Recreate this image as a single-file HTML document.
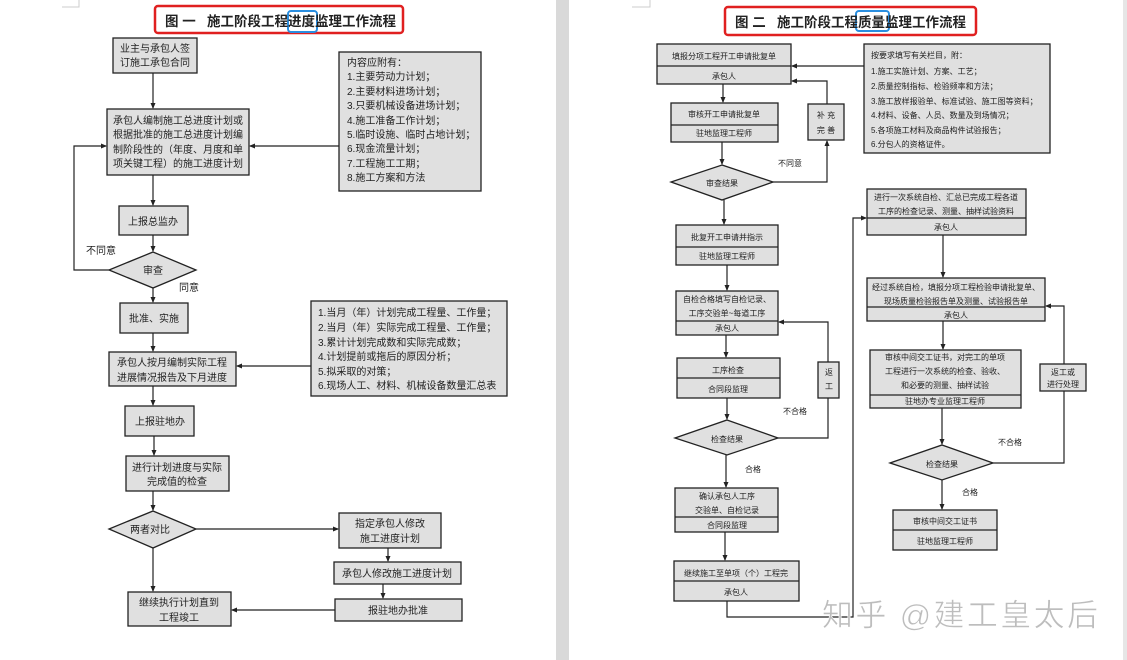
<!DOCTYPE html>
<html><head><meta charset="utf-8"><style>
html,body{margin:0;padding:0;background:#fff;}
svg{display:block;}
text{font-family:"Liberation Sans","Noto Sans CJK SC",sans-serif;fill:#222;}
.b{fill:#e0e0e0;stroke:#222;stroke-width:1.3;}
.l{stroke:#222;stroke-width:1.2;fill:none;}
.t{font-size:10px;}
.s{font-size:8px;}
.ti{font-size:13.5px;font-weight:bold;white-space:pre;}
</style></head><body>
<svg width="1127" height="660" viewBox="0 0 1127 660" xmlns="http://www.w3.org/2000/svg">
<defs><marker id="a" markerWidth="6" markerHeight="6" refX="5" refY="3" orient="auto" markerUnits="userSpaceOnUse"><path d="M0,0.5 L6,3 L0,5.5z" fill="#222"/></marker></defs>
<rect x="556" y="0" width="13" height="660" fill="#d9d9d9"/>
<rect x="1123" y="0" width="4" height="660" fill="#e6e6e6"/>
<path d="M62 7 H79 V0" stroke="#ccc" fill="none"/>
<path d="M632 7 H650 V0" stroke="#ccc" fill="none"/>

<!-- LEFT -->
<rect x="155" y="6" width="248" height="27" rx="3" fill="#fff" stroke="#e02020" stroke-width="2.5"/>
<rect x="288" y="11" width="29" height="21" rx="3" fill="none" stroke="#2a8ee0" stroke-width="2"/>
<text class="ti" x="165" y="26" fill="#111" xml:space="preserve">图 一   施工阶段工程进度监理工作流程</text>

<rect class="b" x="113" y="38" width="84" height="35"/>
<text class="t" x="155" y="52" text-anchor="middle">业主与承包人签</text>
<text class="t" x="155" y="66" text-anchor="middle">订施工承包合同</text>
<line class="l" x1="153" y1="73" x2="153" y2="108" marker-end="url(#a)"/>

<rect class="b" x="339" y="52" width="142" height="139"/>
<g class="t"><text x="347" y="66">内容应附有：</text><text x="347" y="80">1.主要劳动力计划；</text><text x="347" y="95">2.主要材料进场计划；</text><text x="347" y="109">3.只要机械设备进场计划；</text><text x="347" y="124">4.施工准备工作计划；</text><text x="347" y="138">5.临时设施、临时占地计划；</text><text x="347" y="152">6.现金流量计划；</text><text x="347" y="167">7.工程施工工期；</text><text x="347" y="181">8.施工方案和方法</text></g>

<rect class="b" x="107" y="109" width="142" height="66"/>
<g class="t"><text x="113" y="124">承包人编制施工总进度计划或</text><text x="113" y="138">根据批准的施工总进度计划编</text><text x="113" y="153">制阶段性的（年度、月度和单</text><text x="113" y="167">项关键工程）的施工进度计划</text></g>
<line class="l" x1="339" y1="146" x2="250" y2="146" marker-end="url(#a)"/>
<line class="l" x1="153" y1="175" x2="153" y2="205" marker-end="url(#a)"/>

<rect class="b" x="119" y="206" width="69" height="29"/>
<text class="t" x="153" y="225" text-anchor="middle">上报总监办</text>
<line class="l" x1="153" y1="235" x2="153" y2="251" marker-end="url(#a)"/>
<polygon class="b" points="153,252 196,270 153,288 109,270"/>
<text class="t" x="153" y="274" text-anchor="middle">审查</text>
<path class="l" d="M109 270 H74 V146 H106" marker-end="url(#a)"/>
<text class="t" x="86" y="254">不同意</text>
<text class="t" x="179" y="291">同意</text>
<line class="l" x1="153" y1="288" x2="153" y2="302" marker-end="url(#a)"/>

<rect class="b" x="120" y="303" width="68" height="30"/>
<text class="t" x="154" y="322" text-anchor="middle">批准、实施</text>
<line class="l" x1="153" y1="333" x2="153" y2="351" marker-end="url(#a)"/>

<rect class="b" x="311" y="301" width="196" height="95"/>
<g class="t"><text x="318" y="316">1.当月（年）计划完成工程量、工作量；</text><text x="318" y="331">2.当月（年）实际完成工程量、工作量；</text><text x="318" y="346">3.累计计划完成数和实际完成数；</text><text x="318" y="360">4.计划提前或拖后的原因分析；</text><text x="318" y="375">5.拟采取的对策；</text><text x="318" y="389">6.现场人工、材料、机械设备数量汇总表</text></g>

<rect class="b" x="109" y="352" width="127" height="34"/>
<text class="t" x="172" y="366" text-anchor="middle">承包人按月编制实际工程</text>
<text class="t" x="172" y="381" text-anchor="middle">进展情况报告及下月进度</text>
<line class="l" x1="311" y1="366" x2="237" y2="366" marker-end="url(#a)"/>
<line class="l" x1="153" y1="386" x2="153" y2="405" marker-end="url(#a)"/>

<rect class="b" x="125" y="406" width="69" height="30"/>
<text class="t" x="160" y="425" text-anchor="middle">上报驻地办</text>
<line class="l" x1="154" y1="436" x2="154" y2="455" marker-end="url(#a)"/>

<rect class="b" x="126" y="456" width="103" height="35"/>
<text class="t" x="177" y="471" text-anchor="middle">进行计划进度与实际</text>
<text class="t" x="177" y="485" text-anchor="middle">完成值的检查</text>
<line class="l" x1="153" y1="491" x2="153" y2="510" marker-end="url(#a)"/>

<polygon class="b" points="153,511 196,529 153,548 109,529"/>
<text class="t" x="150" y="533" text-anchor="middle">两者对比</text>
<line class="l" x1="196" y1="529" x2="338" y2="529" marker-end="url(#a)"/>
<line class="l" x1="153" y1="548" x2="153" y2="591" marker-end="url(#a)"/>

<rect class="b" x="339" y="513" width="102" height="35"/>
<text class="t" x="390" y="527" text-anchor="middle">指定承包人修改</text>
<text class="t" x="390" y="542" text-anchor="middle">施工进度计划</text>
<line class="l" x1="388" y1="548" x2="388" y2="561" marker-end="url(#a)"/>
<rect class="b" x="334" y="562" width="127" height="22"/>
<text class="t" x="397" y="577" text-anchor="middle">承包人修改施工进度计划</text>
<line class="l" x1="383" y1="584" x2="383" y2="598" marker-end="url(#a)"/>
<rect class="b" x="335" y="599" width="127" height="22"/>
<text class="t" x="398" y="614" text-anchor="middle">报驻地办批准</text>
<line class="l" x1="335" y1="610" x2="232" y2="610" marker-end="url(#a)"/>
<rect class="b" x="128" y="592" width="103" height="34"/>
<text class="t" x="179" y="606" text-anchor="middle">继续执行计划直到</text>
<text class="t" x="179" y="621" text-anchor="middle">工程竣工</text>

<!-- RIGHT -->
<rect x="725" y="7" width="251" height="28" rx="3" fill="#fff" stroke="#e02020" stroke-width="2.5"/>
<rect x="856" y="11" width="33" height="20" rx="3" fill="none" stroke="#2a8ee0" stroke-width="2"/>
<text class="ti" x="735" y="27" fill="#111" xml:space="preserve">图 二   施工阶段工程质量监理工作流程</text>

<g class="s">
<rect class="b" x="657" y="44" width="134" height="40"/><line class="l" x1="657" y1="66" x2="791" y2="66"/>
<text x="724" y="59" text-anchor="middle">填报分项工程开工申请批复单</text><text x="724" y="79" text-anchor="middle">承包人</text>

<rect class="b" x="864" y="44" width="186" height="109"/>
<text x="871" y="58">按要求填写有关栏目，附：</text><text x="871" y="74">1.施工实施计划、方案、工艺；</text><text x="871" y="89">2.质量控制指标、检验频率和方法；</text><text x="871" y="104">3.施工放样报验单、标准试验、施工图等资料；</text><text x="871" y="118">4.材料、设备、人员、数量及到场情况；</text><text x="871" y="133">5.各项施工材料及商品构件试验报告；</text><text x="871" y="147">6.分包人的资格证件。</text>
<line class="l" x1="864" y1="66" x2="792" y2="66" marker-end="url(#a)"/>
<line class="l" x1="723" y1="84" x2="723" y2="102" marker-end="url(#a)"/>

<rect class="b" x="671" y="103" width="107" height="39"/><line class="l" x1="671" y1="125" x2="778" y2="125"/>
<text x="724" y="117" text-anchor="middle">审核开工申请批复单</text><text x="724" y="136" text-anchor="middle">驻地监理工程师</text>
<rect class="b" x="808" y="104" width="36" height="36"/>
<text x="826" y="118" text-anchor="middle">补 充</text><text x="826" y="133" text-anchor="middle">完 善</text>
<path class="l" d="M827 104 V81 H792" marker-end="url(#a)"/>
<line class="l" x1="722" y1="142" x2="722" y2="164" marker-end="url(#a)"/>
<polygon class="b" points="722,165 773,182 722,200 671,182"/>
<text x="722" y="186" text-anchor="middle">审查结果</text>
<path class="l" d="M773 182 H827 V141" marker-end="url(#a)"/>
<text x="778" y="166">不同意</text>
<line class="l" x1="724" y1="200" x2="724" y2="224" marker-end="url(#a)"/>

<rect class="b" x="676" y="225" width="102" height="40"/><line class="l" x1="676" y1="247" x2="778" y2="247"/>
<text x="727" y="240" text-anchor="middle">批复开工申请并指示</text><text x="727" y="259" text-anchor="middle">驻地监理工程师</text>
<line class="l" x1="727" y1="265" x2="727" y2="290" marker-end="url(#a)"/>

<rect class="b" x="676" y="291" width="102" height="44"/><line class="l" x1="676" y1="321" x2="778" y2="321"/>
<text x="727" y="302" text-anchor="middle">自检合格填写自检记录、</text><text x="727" y="316" text-anchor="middle">工序交验单~每道工序</text><text x="727" y="331" text-anchor="middle">承包人</text>
<line class="l" x1="726" y1="335" x2="726" y2="357" marker-end="url(#a)"/>

<rect class="b" x="677" y="358" width="103" height="40"/><line class="l" x1="677" y1="378" x2="780" y2="378"/>
<text x="728" y="373" text-anchor="middle">工序检查</text><text x="728" y="392" text-anchor="middle">合同段监理</text>
<rect class="b" x="818" y="362" width="21" height="36"/>
<text x="829" y="375" text-anchor="middle">返</text><text x="829" y="389" text-anchor="middle">工</text>
<path class="l" d="M828 362 V322 H779" marker-end="url(#a)"/>
<line class="l" x1="727" y1="398" x2="727" y2="419" marker-end="url(#a)"/>
<polygon class="b" points="727,420 778,438 727,455 675,438"/>
<text x="727" y="442" text-anchor="middle">检查结果</text>
<path class="l" d="M778 438 H828 V398"/>
<text x="783" y="414">不合格</text>
<text x="745" y="472">合格</text>
<line class="l" x1="726" y1="455" x2="726" y2="487" marker-end="url(#a)"/>

<rect class="b" x="675" y="488" width="103" height="44"/><line class="l" x1="675" y1="517" x2="778" y2="517"/>
<text x="727" y="499" text-anchor="middle">确认承包人工序</text><text x="727" y="513" text-anchor="middle">交验单、自检记录</text><text x="727" y="528" text-anchor="middle">合同段监理</text>
<line class="l" x1="725" y1="532" x2="725" y2="560" marker-end="url(#a)"/>

<rect class="b" x="674" y="561" width="125" height="40"/><line class="l" x1="674" y1="581" x2="799" y2="581"/>
<text x="736" y="576" text-anchor="middle">继续施工至单项（个）工程完</text><text x="736" y="595" text-anchor="middle">承包人</text>
<path class="l" d="M727 601 V617 H853 V218 H866" marker-end="url(#a)"/>

<rect class="b" x="867" y="189" width="159" height="46"/><line class="l" x1="867" y1="218" x2="1026" y2="218"/>
<text x="946" y="200" text-anchor="middle">进行一次系统自检、汇总已完成工程各道</text><text x="946" y="214" text-anchor="middle">工序的检查记录、测量、抽样试验资料</text><text x="946" y="230" text-anchor="middle">承包人</text>
<line class="l" x1="943" y1="235" x2="943" y2="277" marker-end="url(#a)"/>

<rect class="b" x="867" y="278" width="178" height="43"/><line class="l" x1="867" y1="307" x2="1045" y2="307"/>
<text x="956" y="290" text-anchor="middle">经过系统自检，填报分项工程检验申请批复单、</text><text x="956" y="304" text-anchor="middle">现场质量检验报告单及测量、试验报告单</text><text x="956" y="318" text-anchor="middle">承包人</text>
<line class="l" x1="943" y1="321" x2="943" y2="349" marker-end="url(#a)"/>

<rect class="b" x="870" y="350" width="151" height="58"/><line class="l" x1="870" y1="395" x2="1021" y2="395"/>
<text x="945" y="360" text-anchor="middle">审核中间交工证书，对完工的单项</text><text x="945" y="374" text-anchor="middle">工程进行一次系统的检查、验收、</text><text x="945" y="388" text-anchor="middle">和必要的测量、抽样试验</text><text x="945" y="404" text-anchor="middle">驻地办专业监理工程师</text>
<rect class="b" x="1040" y="364" width="46" height="27"/>
<text x="1063" y="375" text-anchor="middle">返工或</text><text x="1063" y="387" text-anchor="middle">进行处理</text>
<path class="l" d="M1064 364 V306 H1046" marker-end="url(#a)"/>
<line class="l" x1="942" y1="408" x2="942" y2="444" marker-end="url(#a)"/>
<polygon class="b" points="942,445 993,463 942,480 890,463"/>
<text x="942" y="467" text-anchor="middle">检查结果</text>
<path class="l" d="M993 463 H1064 V391"/>
<text x="998" y="445">不合格</text>
<text x="962" y="495">合格</text>
<line class="l" x1="942" y1="480" x2="942" y2="509" marker-end="url(#a)"/>
<rect class="b" x="893" y="510" width="104" height="40"/><line class="l" x1="893" y1="530" x2="997" y2="530"/>
<text x="945" y="524" text-anchor="middle">审核中间交工证书</text><text x="945" y="544" text-anchor="middle">驻地监理工程师</text>
</g>

<text x="822" y="626" style="font-size:31px;fill:#bdbdbd;stroke:#fff;stroke-width:0.6;" textLength="276">知乎 @建工皇太后</text>
</svg>
</body></html>
